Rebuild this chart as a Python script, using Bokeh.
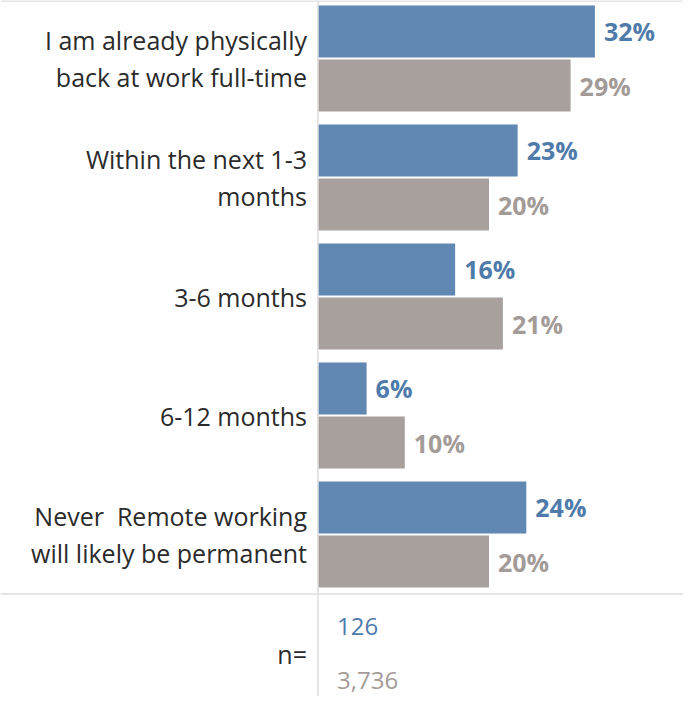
from bokeh.plotting import figure
from bokeh.models import Range1d, Span, ColumnDataSource
from bokeh.transform import dodge
from bokeh.core.properties import value
from bokeh.embed import file_html
from bokeh.resources import INLINE

# ---- data ----
categories = [
    "I am already physically\nback at work full-time",
    "Within the next 1-3\nmonths",
    "3-6 months",
    "6-12 months",
    "Never\u00a0 Remote working\nwill likely be permanent",
]
blue_values = [31.9, 23.0, 15.8, 5.6, 24.0]
gray_values = [29.1, 19.7, 21.3, 10.0, 19.7]
n_label = "n="
n_values = ["126", "3,736"]

# ---- styles ----
BLUE = "#6088b2"
GRAY = "#a8a09d"
BLUE_TXT = "#4f7bab"
GRAY_TXT = "#a39b98"
LINE = "#dcdcdc"
FONT = "Open Sans"

idx = list(range(len(categories)))
src = ColumnDataSource(dict(
    idx=idx,
    cat=categories,
    blue=blue_values,
    gray=gray_values,
    blue_lbl=[f"{round(v)}%" for v in blue_values],
    gray_lbl=[f"{round(v)}%" for v in gray_values],
))

W, H = 683, 696
px_per = 8.68
x0 = -317.5 / px_per
p = figure(width=W, height=H, output_backend="svg", toolbar_location=None,
           x_range=Range1d(x0, x0 + W / px_per),
           y_range=Range1d((704 - 66) / 119, (8 - 66) / 119),
           min_border=0, min_border_left=0, min_border_right=0,
           min_border_top=0, min_border_bottom=0)
p.axis.visible = False
p.grid.visible = False
p.outline_line_color = None
p.background_fill_color = "white"
p.border_fill_color = "white"

off = 0.227
bh = 0.437
p.hbar(y=dodge("idx", -off, range=p.y_range), left=0, right="blue", height=bh,
       fill_color=BLUE, line_color=None, source=src)
p.hbar(y=dodge("idx", off, range=p.y_range), left=0, right="gray", height=bh,
       fill_color=GRAY, line_color=None, source=src)

p.text(x="blue", y=dodge("idx", -off, range=p.y_range), text="blue_lbl", source=src,
       x_offset=9, text_font=value(FONT), text_font_style="bold", text_font_size="25px",
       text_color=BLUE_TXT, text_baseline="middle", text_align="left")
p.text(x="gray", y=dodge("idx", off, range=p.y_range), text="gray_lbl", source=src,
       x_offset=9, text_font=value(FONT), text_font_style="bold", text_font_size="25px",
       text_color=GRAY_TXT, text_baseline="middle", text_align="left")

p.text(x=0, y="idx", text="cat", source=src, x_offset=-11,
       text_font=value(FONT), text_font_size="25px", text_color="#2b2b2b",
       text_baseline="middle", text_align="right", text_line_height=1.06)

n_row = len(categories)
p.text(x=[0], y=[n_row], text=[n_label], x_offset=-11,
       text_font=value(FONT), text_font_size="25px", text_color="#2b2b2b",
       text_baseline="middle", text_align="right")
p.text(x=[0, 0], y=[n_row - off, n_row + off], text=n_values, x_offset=19,
       text_font=value(FONT), text_font_size="24px", text_color=[BLUE_TXT, GRAY_TXT],
       text_baseline="middle", text_align="left")

p.add_layout(Span(location=0, dimension="height", line_color=LINE, line_width=1.5))
p.add_layout(Span(location=n_row - 0.5, dimension="width", line_color=LINE, line_width=1.5))
p.add_layout(Span(location=(8.5 - 66) / 119, dimension="width", line_color=LINE, line_width=1.5))

open("out.html", "w").write(file_html(p, INLINE))
